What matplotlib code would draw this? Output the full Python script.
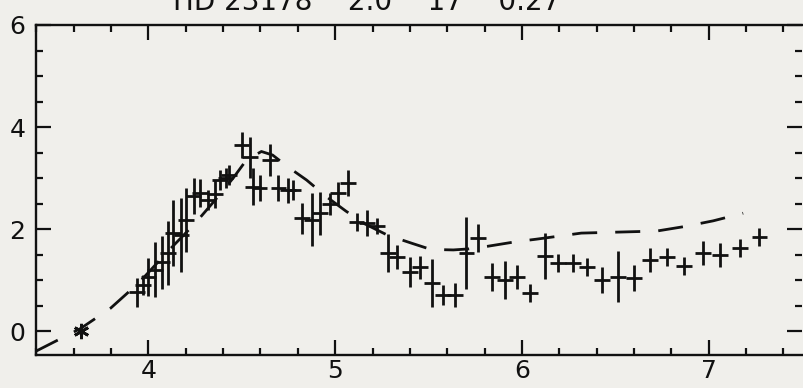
import matplotlib
matplotlib.use("Agg")
import matplotlib.pyplot as plt
from matplotlib.ticker import MultipleLocator

# Observed points: x, y, half-widths of the error crosses
obs_x = [3.94, 3.97, 4.00, 4.035, 4.071, 4.106, 4.131, 4.177, 4.202, 4.242, 4.276,
         4.319, 4.356, 4.383, 4.413, 4.433, 4.499, 4.544, 4.561, 4.595, 4.650, 4.696,
         4.749, 4.776, 4.821, 4.874, 4.917, 4.972, 5.016, 5.068, 5.115, 5.172,
         5.223, 5.284, 5.330, 5.401, 5.455, 5.517, 5.579, 5.641, 5.703, 5.766,
         5.839, 5.909, 5.972, 6.043, 6.124, 6.195, 6.272, 6.349, 6.429, 6.516,
         6.601, 6.687, 6.776, 6.869, 6.970, 7.062, 7.169, 7.272]
obs_y = [0.76, 0.90, 1.06, 1.20, 1.35, 1.53, 1.92, 1.88, 2.18, 2.65, 2.71,
         2.57, 2.69, 2.96, 3.00, 3.06, 3.65, 3.41, 2.83, 2.80, 3.35, 2.80,
         2.76, 2.76, 2.21, 2.18, 2.31, 2.49, 2.70, 2.90, 2.14, 2.12,
         2.06, 1.53, 1.45, 1.16, 1.25, 0.94, 0.71, 0.71, 1.53, 1.82,
         1.06, 1.00, 1.06, 0.75, 1.47, 1.33, 1.33, 1.25, 1.00, 1.06,
         1.04, 1.39, 1.45, 1.27, 1.53, 1.49, 1.63, 1.84]
obs_yerr = [0.28, 0.20, 0.38, 0.54, 0.52, 0.62, 0.65, 0.72, 0.63, 0.35, 0.28,
            0.20, 0.27, 0.20, 0.20, 0.20, 0.26, 0.40, 0.36, 0.25, 0.31, 0.25,
            0.25, 0.20, 0.30, 0.52, 0.42, 0.22, 0.23, 0.26, 0.18, 0.26,
            0.16, 0.38, 0.23, 0.30, 0.23, 0.47, 0.20, 0.23, 0.70, 0.28,
            0.27, 0.38, 0.23, 0.18, 0.45, 0.18, 0.18, 0.18, 0.25, 0.50,
            0.25, 0.24, 0.17, 0.18, 0.24, 0.23, 0.17, 0.18]
obs_xerr = 0.042

# Single reference point drawn as an asterisk
ref_x = [3.641]
ref_y = [0.0]

# Model curve (dashed)
model_x = [3.395, 3.637, 3.798, 3.95, 4.101, 4.252, 4.353, 4.454, 4.524, 4.605,
           4.665, 4.746, 4.847, 4.958, 5.058, 5.159, 5.280, 5.411, 5.512, 5.633,
           5.714, 5.814, 5.966, 6.076, 6.177, 6.318, 6.520, 6.722, 6.873, 7.024,
           7.185]
model_y = [-0.40, 0.05, 0.45, 0.95, 1.55, 2.12, 2.55, 3.00, 3.35, 3.52, 3.45,
           3.22, 2.96, 2.62, 2.35, 2.10, 1.88, 1.72, 1.60, 1.59, 1.61, 1.66,
           1.75, 1.80, 1.85, 1.92, 1.94, 1.96, 2.05, 2.16, 2.31]

title_text = "HD 23178    2.0    17    0.27"
x_ticks = [4, 5, 6, 7]
y_ticks = [0, 2, 4, 6]

bg = "#f0efeb"
ink = "#111111"

plt.rcParams["font.family"] = ["DejaVu Sans"]

fig = plt.figure(figsize=(8.04, 3.88), dpi=100, facecolor=bg)
left_px, right_px = 36.4, 802.0
ax = fig.add_axes([left_px / 804, 1 - 355 / 388, (right_px - left_px) / 804,
                   (355 - 25) / 388])
ax.set_facecolor(bg)

ax.plot(model_x, model_y, color=ink, lw=2.0, dashes=(9, 6.5), solid_capstyle="butt",
        dash_capstyle="butt", zorder=2)
ax.errorbar(obs_x, obs_y, yerr=obs_yerr, xerr=obs_xerr, fmt="none", ecolor=ink,
            elinewidth=2.0, capsize=0, zorder=3)
ax.plot(ref_x, ref_y, linestyle="none", marker=(6, 2, 0), markersize=11,
        markeredgewidth=2.0, color=ink, zorder=3)

ax.set_xlim(3.4, 7.5)
ax.set_ylim(-0.47, 6.0)
ax.set_xticks(x_ticks)
ax.set_yticks(y_ticks)
ax.xaxis.set_minor_locator(MultipleLocator(0.2))
ax.yaxis.set_minor_locator(MultipleLocator(0.5))
ax.tick_params(which="both", direction="in", top=True, right=True, colors=ink,
               labelsize=18, width=1.6)
ax.tick_params(which="major", length=11)
ax.tick_params(which="minor", length=5)
ax.tick_params(axis="x", pad=3)
ax.tick_params(axis="y", pad=8)
for side in ("left", "bottom", "top"):
    ax.spines[side].set_linewidth(1.7)
    ax.spines[side].set_color(ink)
ax.spines["right"].set_visible(False)

fig.text(367 / 804, 1 - 10 / 388, title_text, ha="center", va="baseline",
         fontsize=20, color=ink)

fig.savefig("out.png", dpi=100, facecolor=bg)
